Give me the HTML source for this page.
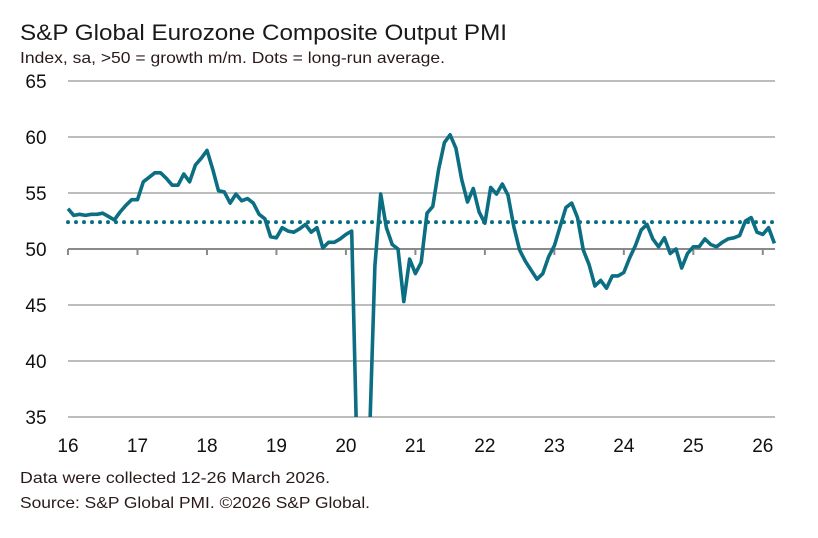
<!DOCTYPE html>
<html><head><meta charset="utf-8"><style>
html,body{margin:0;padding:0;background:#fff;overflow:hidden;width:818px;height:538px;}
svg{display:block;font-family:"Liberation Sans",sans-serif;}
</style></head><body>
<svg id="chart" width="818" height="538" viewBox="0 0 818 538">
<text x="20" y="40" font-size="22" fill="#1a1a1a" textLength="487" lengthAdjust="spacingAndGlyphs">S&amp;P Global Eurozone Composite Output PMI</text>
<text x="20" y="63" font-size="16" fill="#2a1a1a" textLength="425" lengthAdjust="spacingAndGlyphs">Index, sa, &gt;50 = growth m/m. Dots = long-run average.</text>
<g id="grid"></g>
<g id="yticks"></g>
<g id="xticks"></g>
<defs><clipPath id="plotclip"><rect x="60" y="70" width="730" height="347"/></clipPath></defs>
<g id="series" clip-path="url(#plotclip)"></g>
<text x="20" y="483" font-size="16" fill="#2a1a1a" textLength="310" lengthAdjust="spacingAndGlyphs">Data were collected 12-26 March 2026.</text>
<text x="20" y="508" font-size="16" fill="#2a1a1a" textLength="350" lengthAdjust="spacingAndGlyphs">Source: S&amp;P Global PMI. ©2026 S&amp;P Global.</text>
</svg>
<script>
const yTicks=[65,60,55,50,45,40,35];
const xLabels=["16","17","18","19","20","21","22","23","24","25","26"];
const longRunAvg=52.4;
const pmi=[
53.6,53.0,53.1,53.0,53.1,53.1,53.2,52.9,52.6,53.3,53.9,54.4,
54.4,56.0,56.4,56.8,56.8,56.3,55.7,55.7,56.7,56.0,57.5,58.1,
58.8,57.1,55.2,55.1,54.1,54.9,54.3,54.5,54.1,53.1,52.7,51.1,
51.0,51.9,51.6,51.5,51.8,52.2,51.5,51.9,50.1,50.6,50.6,50.9,
51.3,51.6,29.7,13.6,31.9,48.5,54.9,51.9,50.4,50.0,45.3,49.1,
47.8,48.8,53.2,53.8,57.1,59.5,60.2,59.0,56.2,54.2,55.4,53.3,
52.3,55.5,54.9,55.8,54.8,52.0,49.9,48.9,48.1,47.3,47.8,49.3,
50.3,52.0,53.7,54.1,52.8,49.9,48.6,46.7,47.2,46.5,47.6,47.6,
47.9,49.2,50.3,51.7,52.2,50.9,50.2,51.0,49.6,50.0,48.3,49.6,
50.2,50.2,50.9,50.4,50.2,50.6,50.9,51.0,51.2,52.5,52.8,51.5,
51.3,51.9,50.5];
const NS="http://www.w3.org/2000/svg";
const X0=68,X1=775,Y65=81,Y35=417,MPX=5.79;
function xm(i){return X0+i*MPX;}
function xy(yr){return X0+yr*12*MPX;}
function yv(v){return Y35-(v-35)*(Y35-Y65)/30;}
function mk(tag,attrs,parent){const e=document.createElementNS(NS,tag);for(const k in attrs)e.setAttribute(k,attrs[k]);parent.appendChild(e);return e;}
const grid=document.getElementById('grid'),yt=document.getElementById('yticks'),xt=document.getElementById('xticks'),ser=document.getElementById('series');
yTicks.forEach(v=>{
  const l=mk('line',{x1:X0,x2:X1,y1:yv(v),y2:yv(v),stroke:v===50?'#8a8a8a':'#bdbdbd','stroke-width':2},grid);
  
  
  const t=mk('text',{x:36,y:yv(v)+7,'font-size':19,'text-anchor':'middle',fill:'#111'},yt);
  t.textContent=v;
  
  
});
xLabels.forEach((s,i)=>{
  const x=xy(i);
  const tk=mk('line',{x1:x,x2:x,y1:yv(50),y2:yv(50)+6,stroke:'#8a8a8a','stroke-width':2},grid);
  
  
  const t=mk('text',{x:x,y:452,'font-size':19,'text-anchor':'middle',fill:'#111'},xt);
  t.textContent=s;
  
  
});
const avg=mk('line',{x1:X0,x2:X1,y1:yv(longRunAvg),y2:yv(longRunAvg),stroke:'#0b6e82','stroke-width':4,'stroke-dasharray':'0 8','stroke-linecap':'round'},ser);


const d=pmi.map((v,i)=>(i?'L':'M')+xm(i).toFixed(1)+','+yv(v).toFixed(1)).join('');
const p=mk('path',{d:d,fill:'none',stroke:'#0b6e82','stroke-width':3.6,'stroke-linejoin':'round'},ser);


</script>
</body></html>
